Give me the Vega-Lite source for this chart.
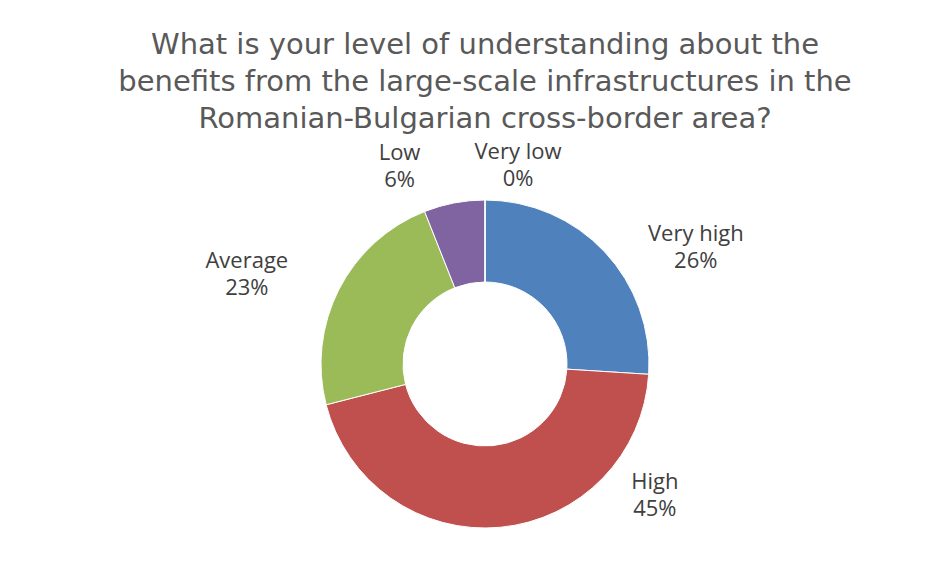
{
  "$schema": "https://vega.github.io/schema/vega-lite/v6.json",
  "autosize": {"type": "fit", "contains": "padding"},
  "width": 950,
  "height": 580,
  "padding": {"left": 20, "top": 105, "right": 0, "bottom": 0},
  "background": "white",
  "title": {
    "text": ["What is your level of understanding about the", "benefits from the large-scale infrastructures in the", "Romanian-Bulgarian cross-border area?"],
    "font": "DejaVu Sans",
    "fontSize": 29,
    "fontWeight": "normal",
    "color": "#595959",
    "lineHeight": 37,
    "baseline": "top",
    "anchor": "middle",
    "offset": -62
  },
  "data": {
    "values": [
      {"category": "Very high", "share": 0.26, "rank": 1},
      {"category": "High", "share": 0.45, "rank": 2},
      {"category": "Average", "share": 0.23, "rank": 3},
      {"category": "Low", "share": 0.06, "rank": 4},
      {"category": "Very low", "share": 0.0, "rank": 5}
    ]
  },
  "transform": [
    {"calculate": "datum.category + '\\n' + format(datum.share, '.0%')", "as": "label"}
  ],
  "encoding": {
    "theta": {"field": "share", "type": "quantitative", "stack": true},
    "order": {"field": "rank", "type": "quantitative"}
  },
  "layer": [
    {
      "mark": {"type": "arc", "innerRadius": 82, "outerRadius": 164, "stroke": "white", "strokeWidth": 1},
      "encoding": {
        "color": {
          "field": "category",
          "type": "nominal",
          "scale": {
            "domain": ["Very high", "High", "Average", "Low", "Very low"],
            "range": ["#4F81BD", "#C0504D", "#9BBB59", "#8064A2", "#4BACC6"]
          },
          "legend": null
        }
      }
    },
    {
      "mark": {"type": "text", "radius": 200, "dx": 65, "dy": 7, "font": "Open Sans", "fontSize": 22, "color": "#404040", "lineBreak": "\n", "lineHeight": 27},
      "encoding": {"text": {"condition": {"test": "datum.category === 'Very high'", "field": "label"}, "value": ""}}
    },
    {
      "mark": {"type": "text", "radius": 200, "dx": 151, "dy": -81, "font": "Open Sans", "fontSize": 22, "color": "#404040", "lineBreak": "\n", "lineHeight": 27},
      "encoding": {"text": {"condition": {"test": "datum.category === 'High'", "field": "label"}, "value": ""}}
    },
    {
      "mark": {"type": "text", "radius": 200, "dx": -60, "dy": -12, "font": "Open Sans", "fontSize": 22, "color": "#404040", "lineBreak": "\n", "lineHeight": 27},
      "encoding": {"text": {"condition": {"test": "datum.category === 'Average'", "field": "label"}, "value": ""}}
    },
    {
      "mark": {"type": "text", "radius": 200, "dx": -48, "dy": -15, "font": "Open Sans", "fontSize": 22, "color": "#404040", "lineBreak": "\n", "lineHeight": 27},
      "encoding": {"text": {"condition": {"test": "datum.category === 'Low'", "field": "label"}, "value": ""}}
    },
    {
      "mark": {"type": "text", "radius": 200, "dx": 33, "dy": -12, "font": "Open Sans", "fontSize": 22, "color": "#404040", "lineBreak": "\n", "lineHeight": 27},
      "encoding": {"text": {"condition": {"test": "datum.category === 'Very low'", "field": "label"}, "value": ""}}
    }
  ],
  "config": {"view": {"stroke": null}}
}
